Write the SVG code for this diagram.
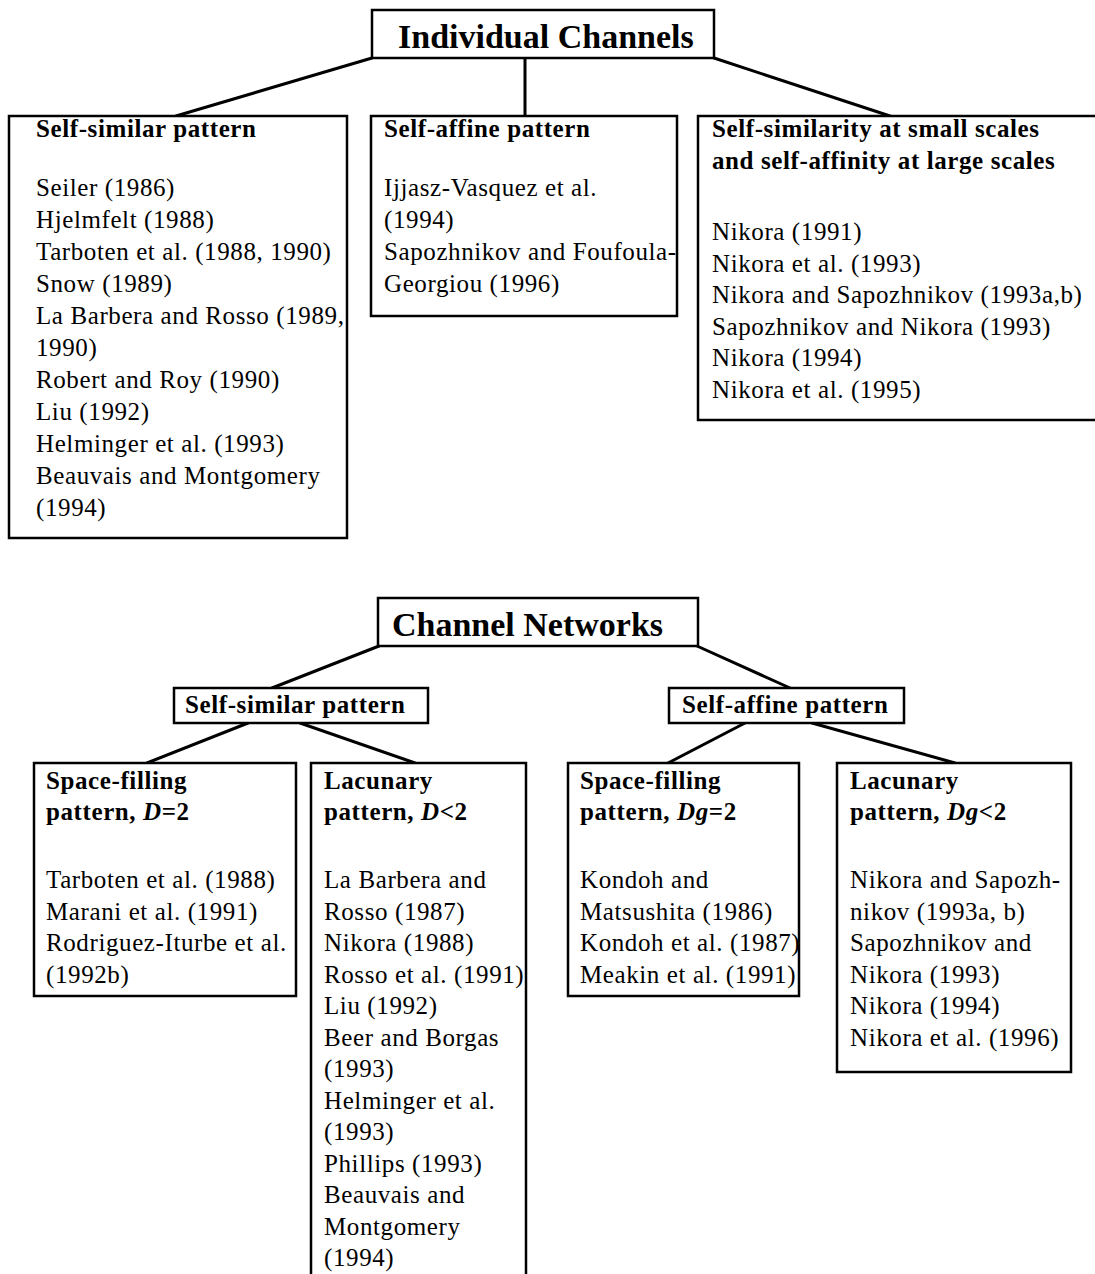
<svg xmlns="http://www.w3.org/2000/svg" width="1095" height="1274" viewBox="0 0 1095 1274">
<style>
.bg{fill:#fff}
.box{fill:#fff;stroke:#000;stroke-width:2.5}
.conn{stroke:#000;stroke-width:3;fill:none;stroke-linecap:round}
text{font-family:"Liberation Serif","Times New Roman",serif;font-size:25px;letter-spacing:0.6px;fill:#000}
.h{font-weight:bold}
.title{font-size:34px;font-weight:bold;letter-spacing:0}
</style>
<rect class="bg" x="0" y="0" width="1095" height="1274"/>
<g id="connectors">
<line class="conn" x1="372" y1="58" x2="176" y2="116"/>
<line class="conn" x1="525" y1="58" x2="525" y2="116"/>
<line class="conn" x1="714" y1="58" x2="890" y2="116"/>
<line class="conn" x1="379" y1="646" x2="272" y2="688"/>
<line class="conn" x1="697" y1="646" x2="790" y2="688"/>
<line class="conn" x1="248" y1="723" x2="147" y2="763"/>
<line class="conn" x1="300" y1="723" x2="415" y2="763"/>
<line class="conn" x1="745" y1="723" x2="668" y2="763"/>
<line class="conn" x1="812" y1="723" x2="955" y2="763"/>
</g>
<g id="individual-channels">
<rect class="box" x="372" y="10" width="342" height="48"/>
<text class="title" x="398" y="48">Individual Channels</text>
</g>
<g id="ic-self-similar">
<rect class="box" x="9" y="116" width="338" height="422"/>
<text class="h" x="36" y="137">Self-similar pattern</text>
<text x="36" y="196">Seiler (1986)</text>
<text x="36" y="228">Hjelmfelt (1988)</text>
<text x="36" y="260">Tarboten et al. (1988, 1990)</text>
<text x="36" y="292">Snow (1989)</text>
<text x="36" y="324">La Barbera and Rosso (1989,</text>
<text x="36" y="356">1990)</text>
<text x="36" y="388">Robert and Roy (1990)</text>
<text x="36" y="420">Liu (1992)</text>
<text x="36" y="452">Helminger et al. (1993)</text>
<text x="36" y="484">Beauvais and Montgomery</text>
<text x="36" y="516">(1994)</text>
</g>
<g id="ic-self-affine">
<rect class="box" x="371" y="116" width="306" height="200"/>
<text class="h" x="384" y="137">Self-affine pattern</text>
<text x="384" y="196">Ijjasz-Vasquez et al.</text>
<text x="384" y="228">(1994)</text>
<text x="384" y="260">Sapozhnikov and Foufoula-</text>
<text x="384" y="292">Georgiou (1996)</text>
</g>
<g id="ic-mixed">
<path class="box" d="M1100,116 H698 V420 H1100"/>
<text class="h" x="712" y="137">Self-similarity at small scales</text>
<text class="h" x="712" y="169">and self-affinity at large scales</text>
<text x="712" y="240">Nikora (1991)</text>
<text x="712" y="271.5">Nikora et al. (1993)</text>
<text x="712" y="303">Nikora and Sapozhnikov (1993a,b)</text>
<text x="712" y="334.5">Sapozhnikov and Nikora (1993)</text>
<text x="712" y="366">Nikora (1994)</text>
<text x="712" y="397.5">Nikora et al. (1995)</text>
</g>
<g id="channel-networks">
<rect class="box" x="378" y="598" width="320" height="48"/>
<text class="title" x="392" y="636">Channel Networks</text>
</g>
<g id="cn-self-similar">
<rect class="box" x="174" y="688" width="254" height="35"/>
<text class="h" x="185" y="713">Self-similar pattern</text>
</g>
<g id="cn-self-affine">
<rect class="box" x="669" y="688" width="235" height="35"/>
<text class="h" x="682" y="713">Self-affine pattern</text>
</g>
<g id="ss-space-filling">
<rect class="box" x="34" y="763" width="262" height="233"/>
<text class="h" x="46" y="789">Space-filling</text>
<text class="h" x="46" y="820">pattern, <tspan font-style="italic">D</tspan>=2</text>
<text x="46" y="888">Tarboten et al. (1988)</text>
<text x="46" y="919.5">Marani et al. (1991)</text>
<text x="46" y="951">Rodriguez-Iturbe et al.</text>
<text x="46" y="982.5">(1992b)</text>
</g>
<g id="ss-lacunary">
<path class="box" d="M311,1280 V763 H526 V1280"/>
<text class="h" x="324" y="789">Lacunary</text>
<text class="h" x="324" y="820">pattern, <tspan font-style="italic">D</tspan>&lt;2</text>
<text x="324" y="888">La Barbera and</text>
<text x="324" y="919.5">Rosso (1987)</text>
<text x="324" y="951">Nikora (1988)</text>
<text x="324" y="982.5">Rosso et al. (1991)</text>
<text x="324" y="1014">Liu (1992)</text>
<text x="324" y="1045.5">Beer and Borgas</text>
<text x="324" y="1077">(1993)</text>
<text x="324" y="1108.5">Helminger et al.</text>
<text x="324" y="1140">(1993)</text>
<text x="324" y="1171.5">Phillips (1993)</text>
<text x="324" y="1203">Beauvais and</text>
<text x="324" y="1234.5">Montgomery</text>
<text x="324" y="1266">(1994)</text>
</g>
<g id="sa-space-filling">
<rect class="box" x="568" y="763" width="231" height="233"/>
<text class="h" x="580" y="789">Space-filling</text>
<text class="h" x="580" y="820">pattern, <tspan font-style="italic">Dg</tspan>=2</text>
<text x="580" y="888">Kondoh and</text>
<text x="580" y="919.5">Matsushita (1986)</text>
<text x="580" y="951">Kondoh et al. (1987)</text>
<text x="580" y="982.5">Meakin et al. (1991)</text>
</g>
<g id="sa-lacunary">
<rect class="box" x="837" y="763" width="234" height="309"/>
<text class="h" x="850" y="789">Lacunary</text>
<text class="h" x="850" y="820">pattern, <tspan font-style="italic">Dg</tspan>&lt;2</text>
<text x="850" y="888">Nikora and Sapozh-</text>
<text x="850" y="919.5">nikov (1993a, b)</text>
<text x="850" y="951">Sapozhnikov and</text>
<text x="850" y="982.5"> Nikora (1993)</text>
<text x="850" y="1014">Nikora (1994)</text>
<text x="850" y="1045.5">Nikora et al. (1996)</text>
</g>
</svg>
